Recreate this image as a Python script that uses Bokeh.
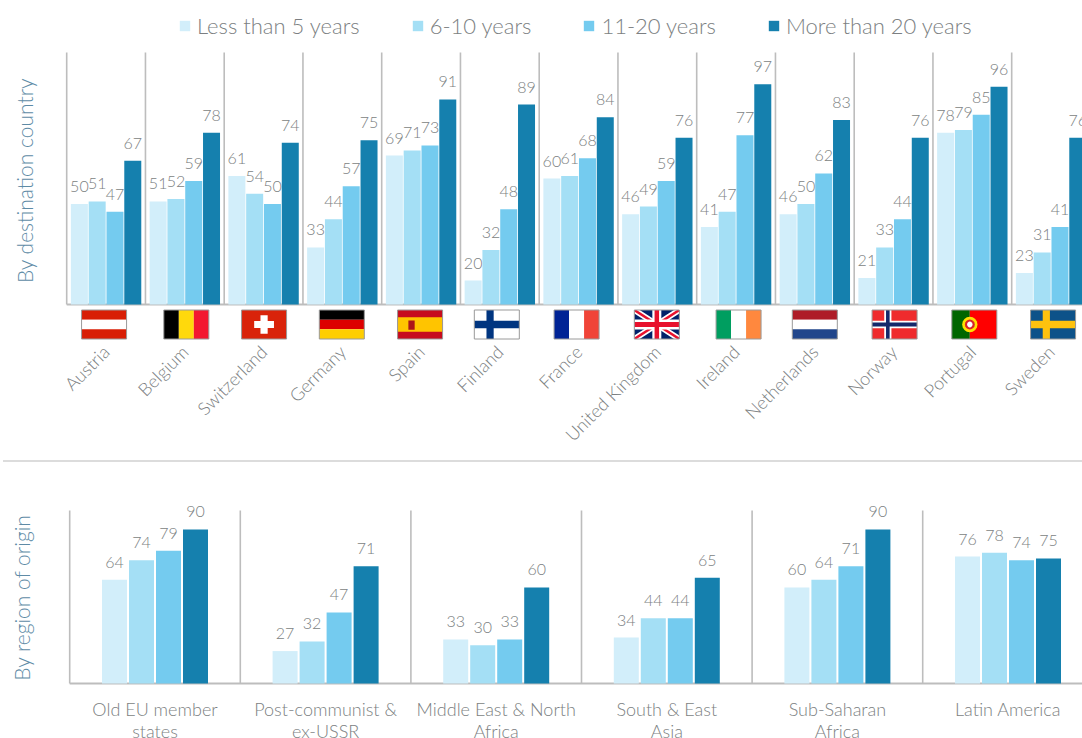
import math
from bokeh.plotting import figure
from bokeh.models import Range1d, FixedTicker, Legend, LegendItem, Div, ColumnDataSource
from bokeh.layouts import column
from bokeh.core.properties import value
from bokeh.embed import file_html
from bokeh.resources import INLINE

series_names = ["Less than 5 years", "6-10 years", "11-20 years", "More than 20 years"]
colors = ["#d2eefa", "#a4dff5", "#74cbef", "#1580ae"]

countries = ["Austria", "Belgium", "Switzerland", "Germany", "Spain", "Finland", "France",
             "United Kingdom", "Ireland", "Netherlands", "Norway", "Portugal", "Sweden"]
c_lt5 = [50, 51, 61, 33, 69, 20, 60, 46, 41, 46, 21, 78, 23]
c_6_10 = [51, 52, 54, 44, 71, 32, 61, 49, 47, 50, 33, 79, 31]
c_11_20 = [47, 59, 50, 57, 73, 48, 68, 59, 77, 62, 44, 85, 41]
c_gt20 = [67, 78, 74, 75, 91, 89, 84, 76, 97, 83, 76, 96, 76]

regions = ["Old EU member\nstates", "Post-communist &\nex-USSR", "Middle East & North\nAfrica",
           "South & East\nAsia", "Sub-Saharan\nAfrica", "Latin America"]
r_lt5 = [64, 27, 33, 34, 60, 76]
r_6_10 = [74, 32, 30, 44, 64, 78]
r_11_20 = [79, 47, 33, 44, 71, 74]
r_gt20 = [90, 71, 60, 65, 90, 75]

FONT = "Lato Light"
GRAY = "#7c7f82"
RULE = "#bdbdbd"
AXIS_BLUE = "#5e8ba6"


def make_chart(width, height, bottom, x0, gw, yr, base, ymax, n, series, pitch, barw):
    p = figure(width=width, height=height, x_range=Range1d(-x0 / gw, (width - x0) / gw),
               y_range=Range1d(*yr), output_backend="svg", toolbar_location=None,
               min_border_left=0, min_border_top=0, min_border_bottom=bottom, min_border_right=0)
    p.outline_line_color = None
    p.grid.visible = False
    p.yaxis.visible = False
    p.segment(x0=list(range(n)), x1=list(range(n)), y0=[base] * n, y1=[ymax] * n,
              line_color=RULE, line_width=1.6)
    p.segment(x0=[0], x1=[(width - x0) / gw], y0=[base], y1=[base], line_color=RULE, line_width=2)
    rends = []
    for k, vals in enumerate(series):
        xs = [i + 0.5 + (k - 1.5) * pitch for i in range(n)]
        src = ColumnDataSource(dict(x=xs, v=vals, t=[str(v) for v in vals]))
        r = p.vbar(x="x", top="v", bottom=base, width=barw, source=src,
                   fill_color=colors[k], line_color=None)
        rends.append(r)
        p.text(x="x", y="v", text="t", source=src, y_offset=-12, text_align="center",
               text_baseline="bottom", text_color=GRAY, text_font=value(FONT),
               text_font_size="16px")
    return p, rends


# ---------- top chart ----------
GW = 78.75
PX_Y = 2.55
BASE_T = 10.6
top_yr = (BASE_T - 38 / PX_Y, BASE_T + 304 / PX_Y)
YMAX_T = BASE_T + 252 / PX_Y
X0_T = 66.2
p1, rends = make_chart(1082, 460, 118, X0_T, GW, top_yr, BASE_T, YMAX_T, len(countries),
                       [c_lt5, c_6_10, c_11_20, c_gt20], 17.8 / GW, 17 / GW)
ax = p1.xaxis[0]
ax.ticker = FixedTicker(ticks=[i + 0.5 for i in range(len(countries))])
ax.major_label_overrides = {i + 0.5: countries[i] for i in range(len(countries))}
ax.axis_line_color = None
ax.major_tick_line_color = None
ax.minor_tick_line_color = None
ax.major_label_text_font = FONT
ax.major_label_text_font_size = "18px"
ax.major_label_text_color = GRAY
ax.major_label_orientation = 0.785
ax.major_label_standoff = 0

legend = Legend(items=[LegendItem(label=series_names[k], renderers=[rends[k]]) for k in range(4)],
                orientation="horizontal", location=(178, 303), padding=0, margin=0, spacing=51,
                glyph_width=13, glyph_height=13, label_standoff=6, label_height=20,
                background_fill_alpha=0, border_line_color=None,
                label_text_font=FONT, label_text_font_size="22px", label_text_color=GRAY)
p1.add_layout(legend, "center")
p1.text(x=[(24 - X0_T) / GW], y=[BASE_T + (304 - 180) / PX_Y], text=["By destination country"],
        angle=math.pi / 2, text_align="center", text_baseline="middle", text_color=AXIS_BLUE,
        text_font=value(FONT), text_font_size="21px")

# flags: shapes in fractions of the flag box
R = lambda a, b, c, d, col: ([a, c, c, a], [b, b, d, d], col)
H3 = lambda a, b, c: [R(0, 0, 1, 1/3, a), R(0, 1/3, 1, 2/3, b), R(0, 2/3, 1, 1, c)]
V3 = lambda a, b, c: [R(0, 0, 1/3, 1, a), R(1/3, 0, 2/3, 1, b), R(2/3, 0, 1, 1, c)]
def disc(cx, cy, rx, ry, col):
    t = [2 * math.pi * k / 16 for k in range(16)]
    return ([cx + rx * math.cos(a) for a in t], [cy + ry * math.sin(a) for a in t], col)
def nordic(bg, fg, inner=None):
    out = [R(0, 0, 1, 1, bg), R(.27, 0, .43, 1, fg), R(0, .37, 1, .63, fg)]
    if inner:
        out += [R(.31, 0, .39, 1, inner), R(0, .43, 1, .57, inner)]
    return out
def diag(col, w):
    return [([0, w, 1, 1, 1 - w, 0], [0, 0, 1 - w, 1, 1, w], col),
            ([1, 1, w, 0, 0, 1 - w], [0, w, 1, 1, 1 - w, 0], col)]
flags = [
    H3("#d81e05", "#ffffff", "#d81e05"),
    V3("#000000", "#ffd90c", "#f31830"),
    [R(0, 0, 1, 1, "#d9230a"), R(.42, .18, .58, .82, "#ffffff"), R(.28, .38, .72, .62, "#ffffff")],
    H3("#000000", "#dd0000", "#ffce00"),
    [R(0, 0, 1, 1, "#c60b1e"), R(0, .25, 1, .75, "#ffc400"), R(.24, .36, .38, .68, "#ad1519")],
    nordic("#ffffff", "#003580"),
    V3("#002395", "#ffffff", "#f04438"),
    [R(0, 0, 1, 1, "#012169")] + diag("#ffffff", .12) + diag("#e8112d", .05)
    + [R(.4, 0, .6, 1, "#ffffff"), R(0, .33, 1, .67, "#ffffff"),
       R(.45, 0, .55, 1, "#e8112d"), R(0, .41, 1, .59, "#e8112d")],
    V3("#009e60", "#ffffff", "#ff883e"),
    H3("#ae1c28", "#ffffff", "#21468b"),
    nordic("#ef2b2d", "#ffffff", "#14286b"),
    [R(0, 0, .4, 1, "#006600"), R(.4, 0, 1, 1, "#ff0000"),
     disc(.4, .5, .17, .27, "#ffe000"), disc(.4, .5, .11, .17, "#d8222a"), disc(.4, .5, .06, .1, "#ffffff")],
    nordic("#0d5289", "#fec20e"),
]
flag_dx = [-2, 1.5, 0.5, -0.5, -1, -3, -2, -0.5, 2.5, 0, 1, 2, 2]
FW, FH, FTOP = 45, 29, 5.5
xs, ys, cols, bl, br, bt, bb = [], [], [], [], [], [], []
for i, parts in enumerate(flags):
    cx = i + 0.5 + flag_dx[i] / GW
    to_x = lambda f: cx + (f - 0.5) * FW / GW
    to_y = lambda f: BASE_T - (FTOP + f * FH) / PX_Y
    for fx, fy, col in parts:
        xs.append([to_x(f) for f in fx])
        ys.append([to_y(f) for f in fy])
        cols.append(col)
    bl.append(to_x(0)); br.append(to_x(1)); bt.append(to_y(0)); bb.append(to_y(1))
p1.patches(xs, ys, fill_color=cols, line_color=None)
p1.quad(left=bl, right=br, top=bt, bottom=bb, fill_color=None, line_color="#9a9a9a", line_width=1)

rule = Div(width=1079, height=2, margin=(0, 0, 0, 3),
           styles={"background-color": "#dcdcdc", "height": "2px"})

# ---------- bottom chart ----------
GW2 = 170.6
PX_Y2 = 1.93
BASE_B = 10.2
X0_B = 69.2
bot_yr = (BASE_B - 55 / PX_Y2, BASE_B + 221 / PX_Y2)
YMAX_B = BASE_B + 173 / PX_Y2
p2, _ = make_chart(1082, 276, 0, X0_B, GW2, bot_yr, BASE_B, YMAX_B, len(regions),
                   [r_lt5, r_6_10, r_11_20, r_gt20], 27 / GW2, 25 / GW2)
p2.xaxis.visible = False
p2.text(x=[i + 0.5 for i in range(len(regions))], y=[BASE_B - 14 / PX_Y2] * len(regions),
        text=regions, text_align="center", text_baseline="top", text_color=GRAY,
        text_font=value(FONT), text_font_size="18px", text_line_height=1.0)
p2.text(x=[(21 - X0_B) / GW2], y=[BASE_B + (683 - 597) / PX_Y2], text=["By region of origin"],
        angle=math.pi / 2, text_align="center", text_baseline="middle", text_color=AXIS_BLUE,
        text_font=value(FONT), text_font_size="21px")

page = column(p1, rule, p2, spacing=0)
open("out.html", "w").write(file_html(page, INLINE))
